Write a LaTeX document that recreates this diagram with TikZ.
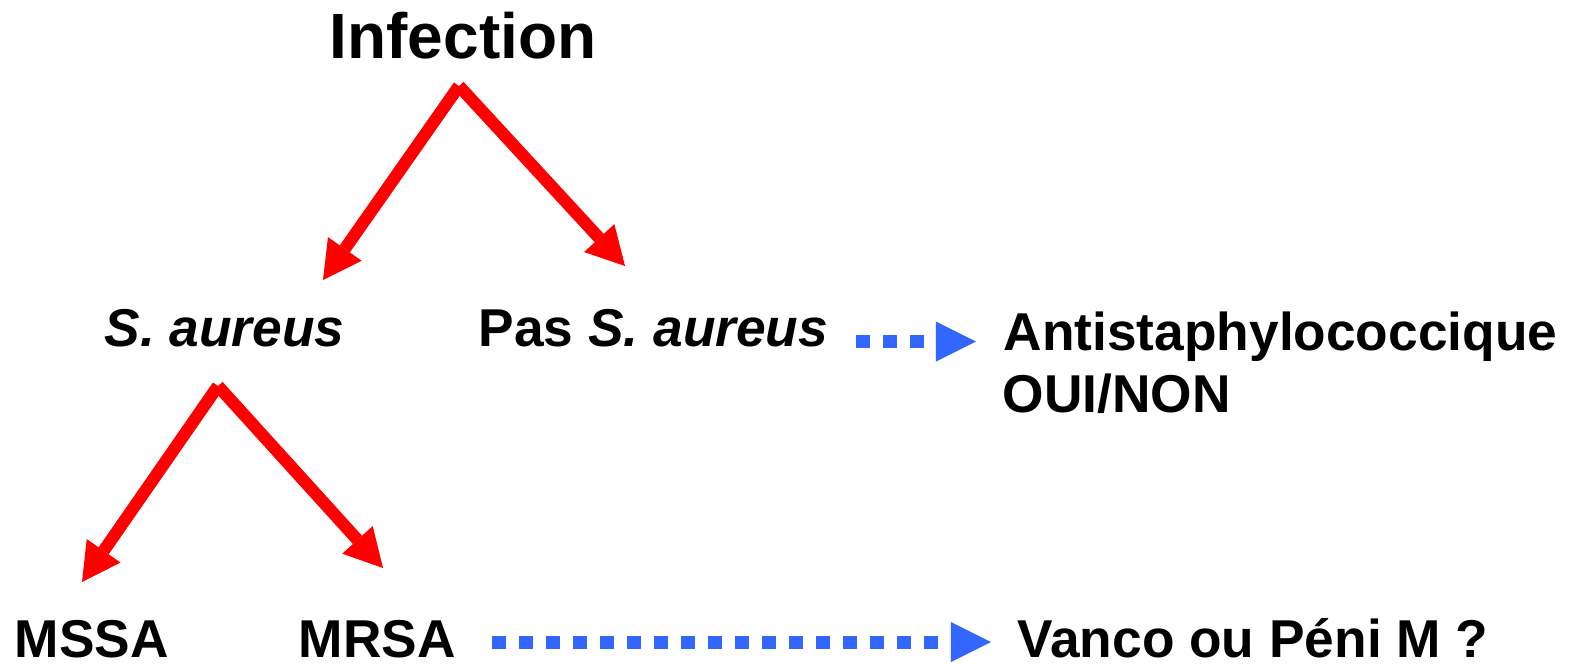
\documentclass[tikz,border=0pt]{standalone}
\usepackage{fontspec}
\setmainfont{Liberation Sans}
\usetikzlibrary{arrows.meta}
\definecolor{redarrow}{RGB}{255,0,0}
\definecolor{bluedot}{RGB}{51,102,255}
\begin{document}
\begin{tikzpicture}[x=0.01cm,y=-0.01cm,
  lbl/.style={anchor=base west, inner sep=0pt, font=\fontsize{15.15}{17.8}\selectfont\bfseries},
  titlelbl/.style={anchor=base west, inner sep=0pt, font=\fontsize{18.2}{21}\selectfont\bfseries},
  redarr/.style={draw=redarrow, line width=3.5pt, line cap=butt, -{Triangle[length=10.8pt,width=11.7pt,line width=0pt]}},
  bluearr/.style={draw=bluedot, line width=3.7pt, line cap=butt, dash pattern=on 3.84pt off 3.84pt, -{Triangle[length=11.4pt,width=11.4pt,line width=0pt]}}]
\useasboundingbox (0,0) rectangle (1573,663);
\node[titlelbl] (inf) at (329,58) {Infection};
\node[lbl] (sa) at (104,346) {\itshape S. aureus};
\node[lbl] (pas) at (478,346) {Pas \textit{S. aureus}};
\node[lbl] (anti) at (1003,350) {Antistaphylococcique};
\node[lbl] (oui) at (1002,412) {OUI/NON};
\node[lbl] (mssa) at (14,657) {MSSA};
\node[lbl] (mrsa) at (298,657) {MRSA};
\node[lbl] (van) at (1017,657) {Vanco ou Péni M ?};
\coordinate (a1) at (459,86);
\coordinate (t1) at (323,280);
\coordinate (t2) at (625,266);
\coordinate (a2) at (218,386);
\coordinate (t3) at (82,582);
\coordinate (t4) at (383,568);
\coordinate (b1s) at (856,341.5);
\coordinate (b1e) at (976,341.5);
\coordinate (b2s) at (492,642);
\coordinate (b2e) at (991,642);
\draw[redarr] (a1) -- (t1);
\draw[redarr] (a1) -- (t2);
\draw[redarr] (a2) -- (t3);
\draw[redarr] (a2) -- (t4);
\draw[bluearr] (b1s) -- (b1e);
\draw[bluearr] (b2s) -- (b2e);
\end{tikzpicture}
\end{document}
